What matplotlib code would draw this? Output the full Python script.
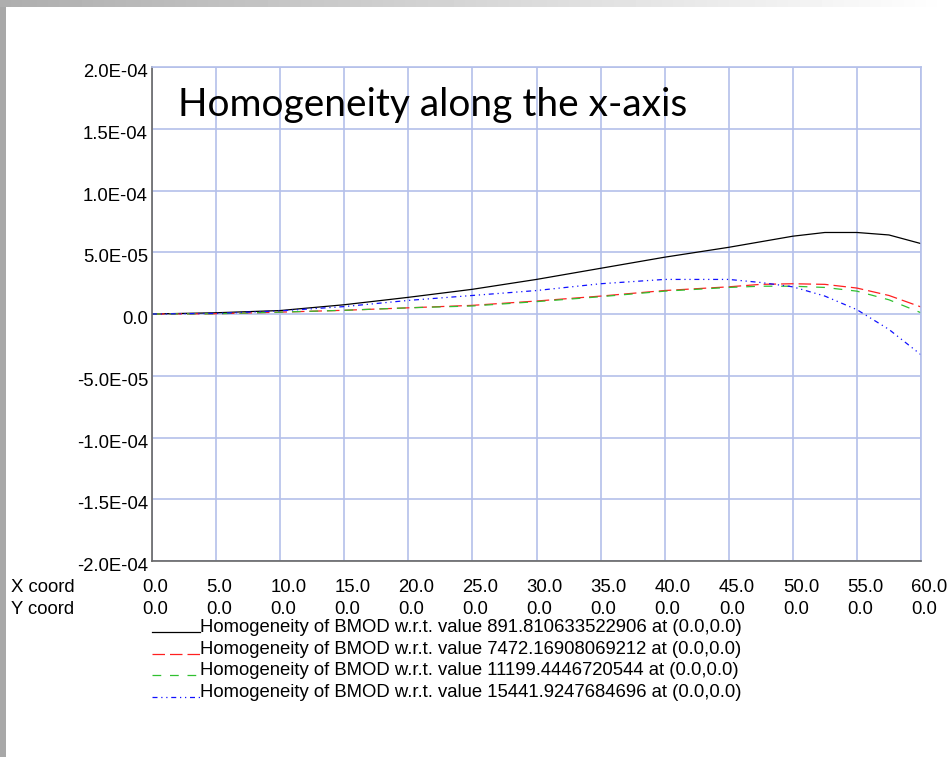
import matplotlib
matplotlib.use("Agg")
import matplotlib.pyplot as plt
import matplotlib.transforms as mtransforms
import numpy as np
from matplotlib.lines import Line2D

# x positions along the axis (mm) and homogeneity values for each reference
x_pos = [0, 5, 10, 15, 20, 25, 30, 35, 40, 45, 47.5, 50, 52.5, 55, 57.5, 60]
black_vals = [0, 0.1e-5, 0.28e-5, 0.75e-5, 1.35e-5, 2.0e-5, 2.8e-5, 3.7e-5, 4.6e-5,
              5.4e-5, 5.85e-5, 6.3e-5, 6.6e-5, 6.6e-5, 6.4e-5, 5.7e-5]
red_vals = [0, 0.02e-5, 0.15e-5, 0.3e-5, 0.5e-5, 0.7e-5, 1.05e-5, 1.45e-5, 1.9e-5,
            2.2e-5, 2.4e-5, 2.45e-5, 2.4e-5, 2.1e-5, 1.5e-5, 0.57e-5]
green_vals = [0, 0.02e-5, 0.15e-5, 0.3e-5, 0.5e-5, 0.65e-5, 1.0e-5, 1.4e-5, 1.85e-5,
              2.15e-5, 2.25e-5, 2.25e-5, 2.15e-5, 1.85e-5, 1.15e-5, 0.1e-5]
blue_vals = [0, 0.05e-5, 0.25e-5, 0.6e-5, 1.1e-5, 1.5e-5, 1.9e-5, 2.45e-5, 2.8e-5,
             2.8e-5, 2.55e-5, 2.2e-5, 1.45e-5, 0.35e-5, -1.25e-5, -3.3e-5]

x_ticks = [0, 5, 10, 15, 20, 25, 30, 35, 40, 45, 50, 55, 60]
x_labels = ["0.0", "5.0", "10.0", "15.0", "20.0", "25.0", "30.0", "35.0",
            "40.0", "45.0", "50.0", "55.0", "60.0"]
y_ticks = [-2e-4, -1.5e-4, -1e-4, -5e-5, 0, 5e-5, 1e-4, 1.5e-4, 2e-4]
y_labels = ["-2.0E-04", "-1.5E-04", "-1.0E-04", "-5.0E-05", "0.0",
            "5.0E-05", "1.0E-04", "1.5E-04", "2.0E-04"]
ref_values = ["891.810633522906", "7472.16908069212",
              "11199.4446720544", "15441.9247684696"]

W, H = 952, 757
GRID = "#b4c0ea"
FS = 13.3
plt.rcParams["font.family"] = ["Liberation Sans", "DejaVu Sans"]

fig = plt.figure(figsize=(W / 100, H / 100), dpi=100)
fig.patch.set_facecolor("white")

def px(x, y):
    return x / W, 1 - y / H

def shift(trans, dx, dy):
    # offset in pixels (dpi is 100, so 1 px = 0.01 inch)
    return trans + mtransforms.ScaledTranslation(dx / 100, -dy / 100, fig.dpi_scale_trans)

# window frame: grey gradient strip on top, grey bar on the left
top = fig.add_axes([0, 1 - 7 / H, 1, 7 / H])
grad = np.linspace(0.68, 1.0, 256)[None, :]
top.imshow(grad, aspect="auto", cmap="gray", vmin=0, vmax=1, extent=[0, 1, 0, 1])
top.axis("off")
left = fig.add_axes([0, 0, 6 / W, 1 - 7 / H])
left.set_facecolor("#a8a8a8")
left.set_xticks([]); left.set_yticks([])
for s in left.spines.values():
    s.set_visible(False)

ax = fig.add_axes([152 / W, (H - 561) / H, 769 / W, 494 / H])
ax.set_xlim(0, 60)
ax.set_ylim(-2e-4, 2e-4)

styles = [
    (black_vals, "#000000", (None, None)),
    (red_vals, "#ff2020", (10, 4)),
    (green_vals, "#30c030", (7, 7)),
    (blue_vals, "#1010ff", (4, 3, 1, 3, 1, 3)),
]
for vals, col, dash in styles:
    line, = ax.plot(x_pos, vals, color=col, lw=0.9)
    if dash[0] is not None:
        line.set_dashes(dash)

ax.set_xticks(x_ticks)
ax.set_yticks(y_ticks)
ax.set_xticklabels([])
ax.set_yticklabels([])
ax.tick_params(length=0)
ax.grid(True, color=GRID, lw=1.2)
ax.set_axisbelow(True)
for side in ["top", "right"]:
    ax.spines[side].set_color(GRID)
    ax.spines[side].set_linewidth(1.2)
for side in ["left", "bottom"]:
    ax.spines[side].set_color("#666666")
    ax.spines[side].set_linewidth(1.2)

# y labels sit just below their grid line
ytrans = mtransforms.blended_transform_factory(ax.transAxes, ax.transData)
for v, lab in zip(y_ticks, y_labels):
    ax.text(0, v, lab, fontsize=FS, ha="right", va="baseline",
            transform=shift(ytrans, -4, 10), clip_on=False)

ax.text(0.034, 0.9, "Homogeneity along the x-axis", transform=ax.transAxes,
        fontsize=28, family="Lato", va="baseline", ha="left")

# coordinate rows under the axis
xtrans = mtransforms.blended_transform_factory(ax.transData, fig.transFigure)
fig.text(*px(11, 592), "X coord", fontsize=FS, va="baseline")
fig.text(*px(11, 613.5), "Y coord", fontsize=FS, va="baseline")
for v, lab in zip(x_ticks, x_labels):
    fig.text(v, 1 - 592 / H, lab, fontsize=FS, va="baseline", transform=shift(xtrans, -10, 0))
    fig.text(v, 1 - 613.5 / H, "0.0", fontsize=FS, va="baseline", transform=shift(xtrans, -10, 0))

# legend rows
for i, (vals, col, dash) in enumerate(styles):
    yb = 632 + i * 21.7
    ln = Line2D([152 / W, 200 / W], [1 - yb / H] * 2, color=col, lw=0.9,
                transform=fig.transFigure)
    if dash[0] is not None:
        ln.set_dashes(dash)
    fig.add_artist(ln)
    fig.text(*px(200, yb), "Homogeneity of BMOD w.r.t. value %s at (0.0,0.0)" % ref_values[i],
             fontsize=FS, va="baseline")

fig.savefig("out.png", dpi=100)
